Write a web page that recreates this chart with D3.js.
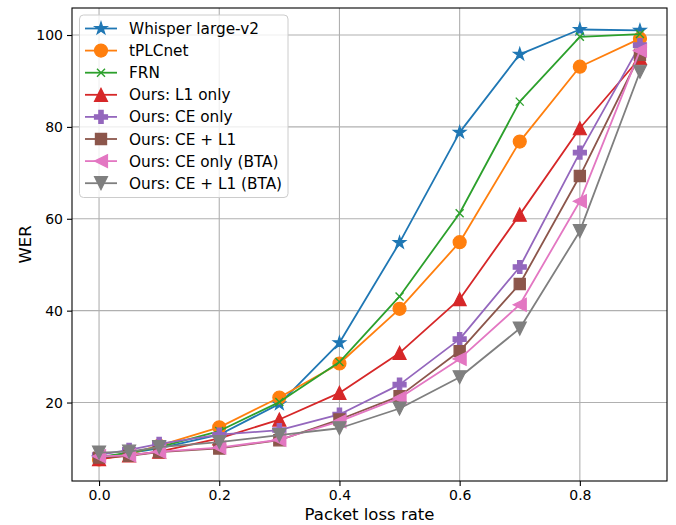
<!DOCTYPE html>
<html>
<head>
<meta charset="utf-8">
<script src="https://cdn.jsdelivr.net/npm/d3@7"></script>
<style>
  html, body { margin: 0; padding: 0; background: #fff; }
  svg { display: block; font-family: "DejaVu Sans", sans-serif; }
</style>
</head>
<body>
<svg id="chart" width="676" height="525"></svg>
<script>
// ---- data ----
const lossRates = [0, 0.05, 0.1, 0.2, 0.3, 0.4, 0.5, 0.6, 0.7, 0.8, 0.9];
const seriesNames = ["Whisper large-v2", "tPLCnet", "FRN", "Ours: L1 only", "Ours: CE only",
  "Ours: CE + L1", "Ours: CE only (BTA)", "Ours: CE + L1 (BTA)"];
const whisper   = [8.0, 9.0, 10.0, 13.0, 19.7, 33.0, 54.8, 78.8, 95.8, 101.2, 101.0];
const tplcnet   = [7.6, 8.8, 10.6, 14.6, 21.1, 28.5, 40.4, 54.9, 76.8, 93.1, 99.2];
const frn       = [8.1, 9.1, 10.3, 13.8, 20.1, 28.8, 43.1, 61.2, 85.5, 99.6, 100.2];
const l1Only    = [7.7, 8.5, 9.3, 12.2, 16.3, 22.1, 30.8, 42.5, 60.9, 79.7, 95.0];
const ceOnly    = [8.6, 9.7, 11.0, 13.0, 14.0, 17.4, 23.9, 33.8, 49.5, 74.4, 97.8];
const ceL1      = [8.0, 8.4, 9.2, 10.0, 11.8, 16.3, 21.4, 31.2, 45.8, 69.3, 95.7];
const ceOnlyBTA = [8.3, 8.5, 9.3, 10.2, 11.9, 15.9, 21.0, 29.5, 41.3, 63.8, 96.6];
const ceL1BTA   = [9.1, 9.3, 10.3, 11.4, 12.9, 14.4, 18.7, 25.5, 36.1, 57.3, 92.0];
const seriesValues = [whisper, tplcnet, frn, l1Only, ceOnly, ceL1, ceOnlyBTA, ceL1BTA];
const xTicks = [0, 0.2, 0.4, 0.6, 0.8];
const yTicks = [20, 40, 60, 80, 100];
const xLabel = "Packet loss rate";
const yLabel = "WER";

// ---- styles ----
const colors = ["#1f77b4", "#ff7f0e", "#2ca02c", "#d62728", "#9467bd", "#8c564b", "#e377c2", "#7f7f7f"];
const markers = ["star", "circle", "x", "triUp", "plus", "square", "triLeft", "triDown"];

const svg = d3.select("#chart");
const M = { left: 72, right: 667, top: 8, bottom: 481 };

const xMin = d3.min(lossRates), xMax = d3.max(lossRates);
const xPad = (xMax - xMin) * 0.05;
const allY = seriesValues.flat();
const yMin = d3.min(allY), yMax = d3.max(allY);
const yPad = (yMax - yMin) * 0.05;

const x = d3.scaleLinear().domain([xMin - xPad, xMax + xPad]).range([M.left, M.right]);
const y = d3.scaleLinear().domain([yMin - yPad, yMax + yPad]).range([M.bottom, M.top]);

function markerPath(type, s) {
  const h = s / 2;
  switch (type) {
    case "circle":
      return `M${h},0A${h},${h} 0 1,1 ${-h},0A${h},${h} 0 1,1 ${h},0Z`;
    case "star": {
      const R = h, r = h * 0.381966;
      let p = "";
      for (let i = 0; i < 10; i++) {
        const a = -Math.PI / 2 + i * Math.PI / 5;
        const rr = i % 2 === 0 ? R : r;
        p += (i === 0 ? "M" : "L") + (rr * Math.cos(a)).toFixed(2) + "," + (rr * Math.sin(a)).toFixed(2);
      }
      return p + "Z";
    }
    case "x": {
      const k = 4;
      return `M${-k},${-k}L${k},${k}M${-k},${k}L${k},${-k}`;
    }
    case "triUp":
      return `M0,${-h}L${-h},${h}L${h},${h}Z`;
    case "triDown":
      return `M0,${h}L${-h},${-h}L${h},${-h}Z`;
    case "triLeft":
      return `M${-h},0L${h},${-h}L${h},${h}Z`;
    case "square": {
      const q = h * 0.86;
      return `M${-q},${-q}L${q},${-q}L${q},${q}L${-q},${q}Z`;
    }
    case "plus": {
      const a = s / 6, b = h;
      return `M${-a},${-b}L${a},${-b}L${a},${-a}L${b},${-a}L${b},${a}L${a},${a}L${a},${b}L${-a},${b}L${-a},${a}L${-b},${a}L${-b},${-a}L${-a},${-a}Z`;
    }
  }
}

function drawMarker(g, type, color) {
  if (type === "x") {
    g.append("path").attr("d", markerPath(type, 13)).attr("fill", "none")
      .attr("stroke", color).attr("stroke-width", 1.4);
  } else {
    g.append("path").attr("d", markerPath(type, 13)).attr("fill", color)
      .attr("stroke", color).attr("stroke-width", 1.2).attr("stroke-linejoin", "miter");
  }
}

// ---- grid ----
const grid = svg.append("g");
grid.selectAll("line.gx").data(xTicks).join("line")
  .attr("x1", d => x(d)).attr("x2", d => x(d)).attr("y1", M.top).attr("y2", M.bottom)
  .attr("stroke", "#b0b0b0").attr("stroke-width", 1.1);
grid.selectAll("line.gy").data(yTicks).join("line")
  .attr("y1", d => y(d)).attr("y2", d => y(d)).attr("x1", M.left).attr("x2", M.right)
  .attr("stroke", "#b0b0b0").attr("stroke-width", 1.1);

// ---- series ----
const clipId = "plotclip";
svg.append("clipPath").attr("id", clipId).append("rect")
  .attr("x", M.left).attr("y", M.top).attr("width", M.right - M.left).attr("height", M.bottom - M.top);

const line = d3.line().x((d, i) => x(lossRates[i])).y(d => y(d));
const plot = svg.append("g").attr("clip-path", `url(#${clipId})`);
seriesValues.forEach((vals, si) => {
  const g = plot.append("g");
  g.append("path").datum(vals).attr("d", line).attr("fill", "none")
    .attr("stroke", colors[si]).attr("stroke-width", 1.8).attr("stroke-linejoin", "round");
  vals.forEach((v, i) => {
    const mg = g.append("g").attr("transform", `translate(${x(lossRates[i])},${y(v)})`);
    drawMarker(mg, markers[si], colors[si]);
  });
});

// ---- axes ----
const xAxis = d3.axisBottom(x).tickValues(xTicks).tickFormat(d3.format(".1f")).tickSizeOuter(0).tickSize(5).tickPadding(4);
const yAxis = d3.axisLeft(y).tickValues(yTicks).tickFormat(d3.format("d")).tickSizeOuter(0).tickSize(5).tickPadding(4);
const gx = svg.append("g").attr("transform", `translate(0,${M.bottom})`).call(xAxis);
const gy = svg.append("g").attr("transform", `translate(${M.left},0)`).call(yAxis);
[gx, gy].forEach(g => {
  g.select(".domain").remove();
  g.selectAll("line").attr("stroke", "#000").attr("stroke-width", 1.1);
  g.selectAll("text").attr("font-size", 14).attr("fill", "#000").attr("font-family", "DejaVu Sans");
});

// frame
svg.append("rect").attr("x", M.left).attr("y", M.top)
  .attr("width", M.right - M.left).attr("height", M.bottom - M.top)
  .attr("fill", "none").attr("stroke", "#000").attr("stroke-width", 1.1);

// axis labels
svg.append("text").attr("x", (M.left + M.right) / 2).attr("y", 520)
  .attr("text-anchor", "middle").attr("font-size", 16.5).attr("fill", "#000").text(xLabel);
svg.append("text").attr("transform", `translate(31,${(M.top + M.bottom) / 2}) rotate(-90)`)
  .attr("text-anchor", "middle").attr("font-size", 16.5).attr("fill", "#000").text(yLabel);

// ---- legend ----
const lg = svg.append("g");
lg.append("rect").attr("x", 79.5).attr("y", 15).attr("width", 208.5).attr("height", 182.5)
  .attr("rx", 4).attr("fill", "#fff").attr("fill-opacity", 0.8)
  .attr("stroke", "#cccccc").attr("stroke-width", 1);
seriesNames.forEach((name, i) => {
  const cy = 28.5 + i * 22.1;
  const row = lg.append("g");
  row.append("line").attr("x1", 85).attr("x2", 117).attr("y1", cy).attr("y2", cy)
    .attr("stroke", colors[i]).attr("stroke-width", 1.8);
  const mg = row.append("g").attr("transform", `translate(101,${cy})`);
  drawMarker(mg, markers[i], colors[i]);
  row.append("text").attr("x", 129).attr("y", cy + 5.5).attr("font-size", 15.3)
    .attr("fill", "#000").text(name);
});
</script>
</body>
</html>
